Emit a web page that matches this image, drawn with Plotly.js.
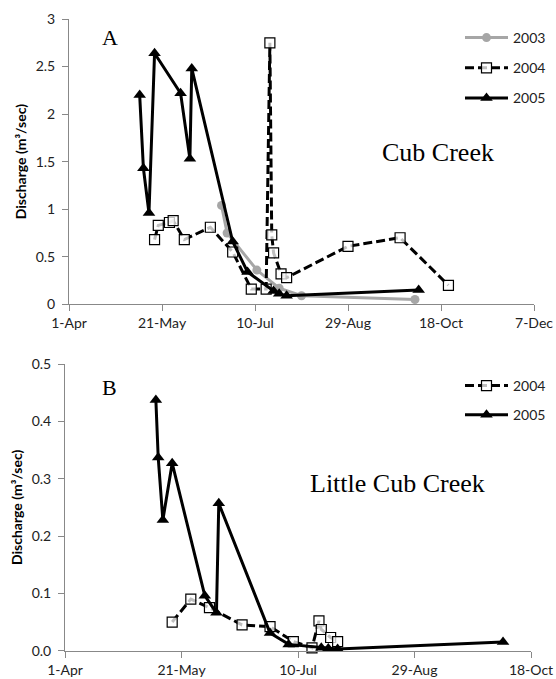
<!DOCTYPE html>
<html>
<head>
<meta charset="utf-8">
<script src="https://cdn.plot.ly/plotly-3.0.1.min.js"></script>
<style>
html,body{margin:0;padding:0;background:#fff;}
#chart{width:556px;height:679px;}
</style>
</head>
<body>
<div id="chart"></div>
<script>
// ---- Panel A: Cub Creek ----
var cub2003Dates = ['2005-06-22','2005-06-25','2005-07-11','2005-07-23','2005-08-04','2005-10-04'];
var cub2003Vals  = [1.04, 0.75, 0.36, 0.17, 0.09, 0.05];

var cub2004Dates = ['2005-05-17','2005-05-19','2005-05-25','2005-05-27','2005-06-02','2005-06-16','2005-06-28',
                    '2005-07-08','2005-07-16','2005-07-18','2005-07-19','2005-07-20','2005-07-24','2005-07-27',
                    '2005-08-29','2005-09-26','2005-10-22'];
var cub2004Vals  = [0.68, 0.83, 0.86, 0.88, 0.68, 0.81, 0.55,
                    0.16, 0.16, 2.75, 0.73, 0.54, 0.32, 0.28,
                    0.61, 0.70, 0.20];

var cub2005Dates = ['2005-05-09','2005-05-11','2005-05-14','2005-05-17','2005-05-31','2005-06-05','2005-06-06',
                    '2005-06-28','2005-07-06','2005-07-20','2005-07-23','2005-07-27','2005-10-06'];
var cub2005Vals  = [2.20, 1.43, 0.96, 2.64, 2.22, 1.53, 2.48,
                    0.66, 0.34, 0.14, 0.11, 0.09, 0.15];

// ---- Panel B: Little Cub Creek ----
var lcub2004Dates = ['2005-05-17','2005-05-25','2005-06-02','2005-06-16','2005-06-28','2005-07-08','2005-07-16',
                     '2005-07-19','2005-07-20','2005-07-24','2005-07-27'];
var lcub2004Vals  = [0.050, 0.090, 0.075, 0.045, 0.042, 0.016, 0.005,
                     0.052, 0.037, 0.023, 0.016];

var lcub2005Dates = ['2005-05-10','2005-05-11','2005-05-13','2005-05-17','2005-05-31','2005-06-05','2005-06-06',
                     '2005-06-28','2005-07-06','2005-07-20','2005-07-23','2005-07-27','2005-10-06'];
var lcub2005Vals  = [0.437, 0.337, 0.228, 0.327, 0.096, 0.066, 0.257,
                     0.031, 0.011, 0.005, 0.004, 0.003, 0.015];

// ---- Tick labels ----
var tickDatesA  = ['2005-04-01','2005-05-21','2005-07-10','2005-08-29','2005-10-18','2005-12-07'];
var tickLabelsA = ['1-Apr','21-May','10-Jul','29-Aug','18-Oct','7-Dec'];
var tickDatesB  = ['2005-04-01','2005-05-21','2005-07-10','2005-08-29','2005-10-18'];
var tickLabelsB = ['1-Apr','21-May','10-Jul','29-Aug','18-Oct'];

var FONT = 'Lato, "Open Sans", sans-serif';
var SERIF = '"Liberation Serif", "DejaVu Serif", serif';
var DASH = '9px,4px';

var traces = [
  {x: cub2003Dates, y: cub2003Vals, name: '2003', type: 'scatter', mode: 'lines+markers',
   xaxis: 'x', yaxis: 'y', legend: 'legend', legendgroup: 'a3', cliponaxis: false,
   line: {color: '#a6a6a6', width: 3},
   marker: {symbol: 'circle', size: 9, color: '#a6a6a6'}},
  {x: cub2004Dates, y: cub2004Vals, name: '2004', type: 'scatter', mode: 'lines+markers',
   xaxis: 'x', yaxis: 'y', legend: 'legend', legendgroup: 'a4', cliponaxis: false,
   line: {color: '#000', width: 3, dash: DASH},
   marker: {symbol: 'square', size: 10, color: 'rgba(255,255,255,0.75)', line: {color: '#000', width: 1.2}}},
  {x: cub2005Dates, y: cub2005Vals, name: '2005', type: 'scatter', mode: 'lines+markers',
   xaxis: 'x', yaxis: 'y', legend: 'legend', legendgroup: 'a5', cliponaxis: false,
   line: {color: '#000', width: 3},
   marker: {symbol: 'triangle-up', size: 11, color: '#000'}},
  {x: lcub2004Dates, y: lcub2004Vals, name: '2004', type: 'scatter', mode: 'lines+markers',
   xaxis: 'x2', yaxis: 'y2', legend: 'legend2', legendgroup: 'b4', cliponaxis: false,
   line: {color: '#000', width: 3, dash: DASH},
   marker: {symbol: 'square', size: 10, color: 'rgba(255,255,255,0.75)', line: {color: '#000', width: 1.2}}},
  {x: lcub2005Dates, y: lcub2005Vals, name: '2005', type: 'scatter', mode: 'lines+markers',
   xaxis: 'x2', yaxis: 'y2', legend: 'legend2', legendgroup: 'b5', cliponaxis: false,
   line: {color: '#000', width: 3},
   marker: {symbol: 'triangle-up', size: 11, color: '#000'}}
];

var axisCommon = {
  showline: true, linecolor: '#888', linewidth: 1,
  ticks: 'outside', ticklen: 6, tickcolor: '#888', tickwidth: 1,
  showgrid: false, zeroline: false,
  tickfont: {family: FONT, size: 14, color: '#222'}
};
function ax(extra){ var o = {}; for (var k in axisCommon) o[k] = axisCommon[k]; for (var k2 in extra) o[k2] = extra[k2]; return o; }

var ytitle = function(){ return {text: 'Discharge (m³/sec)', font: {family: FONT, size: 14, color: '#000', weight: 'bold'}, standoff: 5}; };

var layout = {
  width: 556, height: 679,
  margin: {l: 0, r: 0, t: 0, b: 0},
  paper_bgcolor: '#fff', plot_bgcolor: '#fff',
  showlegend: true,
  xaxis: ax({domain: [69/556, 534/556], anchor: 'y', type: 'date',
             range: ['2005-04-01','2005-12-07'], tickmode: 'array', tickvals: tickDatesA, ticktext: tickLabelsA}),
  yaxis: ax({domain: [1 - 304.3/679, 1 - 19/679], anchor: 'x', range: [0, 3], dtick: 0.5, tick0: 0,
             title: ytitle(), ticklabelstandoff: 4}),
  xaxis2: ax({domain: [65/556, 531/556], anchor: 'y2', type: 'date',
              range: ['2005-04-01','2005-10-18'], tickmode: 'array', tickvals: tickDatesB, ticktext: tickLabelsB}),
  yaxis2: ax({domain: [1 - 650.7/679, 1 - 364/679], anchor: 'x2', range: [0, 0.5], dtick: 0.1, tick0: 0,
              tickformat: '.1f', title: ytitle(), ticklabelstandoff: 4}),
  legend: {x: 460/556, y: 1 - 22/679, xanchor: 'left', yanchor: 'top', bgcolor: 'rgba(0,0,0,0)',
           font: {family: FONT, size: 14, color: '#222'}, itemwidth: 43, tracegroupgap: 9, traceorder: 'grouped'},
  legend2: {x: 460/556, y: 1 - 370/679, xanchor: 'left', yanchor: 'top', bgcolor: 'rgba(0,0,0,0)',
            font: {family: FONT, size: 14, color: '#222'}, itemwidth: 43, tracegroupgap: 8, traceorder: 'grouped'},
  annotations: [
    {text: 'A', xref: 'paper', yref: 'paper', x: 110/556, y: 1 - 37/679, xanchor: 'center', yanchor: 'middle',
     showarrow: false, font: {family: SERIF, size: 22, color: '#000'}},
    {text: 'Cub Creek', xref: 'paper', yref: 'paper', x: 438/556, y: 1 - 152/679, xanchor: 'center', yanchor: 'middle',
     showarrow: false, font: {family: SERIF, size: 26, color: '#000'}},
    {text: 'B', xref: 'paper', yref: 'paper', x: 109/556, y: 1 - 387/679, xanchor: 'center', yanchor: 'middle',
     showarrow: false, font: {family: SERIF, size: 22, color: '#000'}},
    {text: 'Little Cub Creek', xref: 'paper', yref: 'paper', x: 397/556, y: 1 - 483/679, xanchor: 'center', yanchor: 'middle',
     showarrow: false, font: {family: SERIF, size: 26, color: '#000'}}
  ]
};

Plotly.newPlot('chart', traces, layout, {displayModeBar: false, staticPlot: true});
</script>
</body>
</html>
